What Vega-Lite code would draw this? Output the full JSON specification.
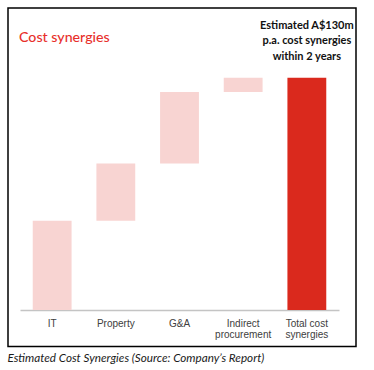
{
  "$schema": "https://vega.github.io/schema/vega-lite/v6.json",
  "width": 348,
  "height": 338.5,
  "autosize": "none",
  "padding": {"left": 8, "top": 8, "right": 18, "bottom": 23.5},
  "background": "white",
  "config": {
    "view": {"stroke": "#000000", "strokeWidth": 1.5},
    "font": "Liberation Sans"
  },
  "title": {
    "text": "Cost synergies",
    "anchor": "start",
    "color": "#e8302b",
    "font": "Lato",
    "fontSize": 14.2,
    "fontWeight": 500,
    "offset": -37,
    "dx": 12
  },
  "data": {
    "values": [
      {"category": "IT", "start": 0, "end": 50, "kind": "step"},
      {"category": "Property", "start": 50, "end": 82, "kind": "step"},
      {"category": "G&A", "start": 82, "end": 122, "kind": "step"},
      {"category": "Indirect|procurement", "start": 122, "end": 130, "kind": "step"},
      {"category": "Total cost|synergies", "start": 0, "end": 130, "kind": "total"}
    ]
  },
  "layer": [
    {
      "mark": {"type": "bar"},
      "encoding": {
        "x": {
          "field": "category",
          "type": "nominal",
          "sort": null,
          "scale": {"range": [12, 331], "paddingInner": 0.39, "paddingOuter": 0.2},
          "axis": {
            "title": "Estimated Cost Synergies (Source: Company’s Report)",
            "titleFont": "Lato",
            "titleFontStyle": "italic",
            "titleFontWeight": "normal",
            "titleFontSize": 11.7,
            "titleColor": "#1a1a1a",
            "titleAlign": "left",
            "titleBaseline": "middle",
            "titleX": -1,
            "titleY": 47.7,
            "labelExpr": "split(datum.label, '|')",
            "labelFont": "Liberation Sans",
            "labelFontSize": 10,
            "labelColor": "#404040",
            "labelPadding": 8,
            "labelLineHeight": 11,
            "labelAngle": 0,
            "ticks": false,
            "domainColor": "#c4c4c4",
            "domainWidth": 1.5,
            "offset": -36.5
          }
        },
        "y": {
          "field": "start",
          "type": "quantitative",
          "scale": {"domain": [0, 130], "range": [302, 69.7], "nice": false, "zero": false},
          "axis": null
        },
        "y2": {"field": "end"},
        "color": {
          "field": "kind",
          "type": "nominal",
          "scale": {"domain": ["step", "total"], "range": ["#f8d4d2", "#da291d"]},
          "legend": null
        }
      }
    },
    {
      "data": {
        "values": [
          {"category": "Total cost|synergies", "value": 130, "label": "Estimated A$130m\np.a. cost synergies\nwithin 2 years"}
        ]
      },
      "mark": {
        "type": "text",
        "font": "Lato",
        "fontWeight": "bold",
        "fontSize": 11,
        "color": "#111111",
        "lineBreak": "\n",
        "lineHeight": 15.5,
        "baseline": "middle",
        "align": "center",
        "dy": -52
      },
      "encoding": {
        "x": {"field": "category", "type": "nominal", "sort": null},
        "y": {"field": "value", "type": "quantitative"},
        "text": {"field": "label"}
      }
    }
  ]
}
